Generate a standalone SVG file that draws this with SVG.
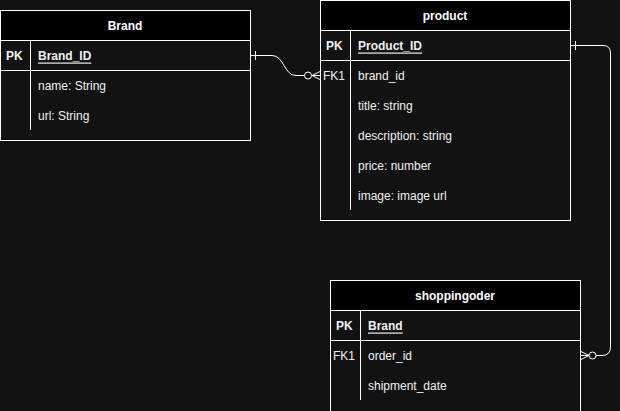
<svg xmlns="http://www.w3.org/2000/svg" width="620" height="411" viewBox="0 0 620 411">
<style>
text{font-family:"Liberation Sans",Arial,sans-serif;font-size:12px;fill:#f0f0f0;dominant-baseline:central}
.h{font-weight:bold;text-anchor:middle;fill:#fff}
.b{font-weight:bold}
.u{text-decoration:underline}
.box{fill:#121212;stroke:#fff;stroke-width:1}
.hd{fill:#000;stroke:#fff;stroke-width:1}
.ln{stroke:#fff;stroke-width:1;fill:none}
</style>
<rect width="620" height="411" fill="#121212"/>
<g id="brand">
<rect class="box" x="0.5" y="10.5" width="250" height="130"/>
<rect class="hd" x="0.5" y="10.5" width="250" height="30"/>
<line class="ln" x1="0.5" y1="70.5" x2="250.5" y2="70.5"/>
<line class="ln" x1="30.5" y1="40.5" x2="30.5" y2="130"/>
<text class="h" x="125" y="25.5">Brand</text>
<text class="b" x="6" y="55.5">PK</text>
<text class="b u" x="38" y="55.5">Brand_ID</text>
<text x="38" y="85.5">name: String</text>
<text x="38" y="115.5">url: String</text>
</g>
<g id="product">
<rect class="box" x="320.5" y="0.5" width="250" height="220"/>
<rect class="hd" x="320.5" y="0.5" width="250" height="30"/>
<line class="ln" x1="320.5" y1="60.5" x2="570.5" y2="60.5"/>
<line class="ln" x1="350.5" y1="30.5" x2="350.5" y2="210"/>
<text class="h" x="445" y="15.5">product</text>
<text class="b" x="326" y="45.5">PK</text>
<text class="b u" x="358" y="45.5">Product_ID</text>
<text x="323" y="75.5">FK1</text>
<text x="358" y="75.5">brand_id</text>
<text x="358" y="105.5">title: string</text>
<text x="358" y="135.5">description: string</text>
<text x="358" y="165.5">price: number</text>
<text x="358" y="195.5">image: image url</text>
</g>
<g id="shoppingoder">
<rect class="box" x="330.5" y="280.5" width="250" height="140"/>
<rect class="hd" x="330.5" y="280.5" width="250" height="30"/>
<line class="ln" x1="330.5" y1="340.5" x2="580.5" y2="340.5"/>
<line class="ln" x1="360.5" y1="310.5" x2="360.5" y2="400"/>
<text class="h" x="455" y="295.5">shoppingoder</text>
<text class="b" x="336" y="325.5">PK</text>
<text class="b u" x="368" y="325.5">Brand</text>
<text x="333" y="355.5">FK1</text>
<text x="368" y="355.5">order_id</text>
<text x="368" y="385.5">shipment_date</text>
</g>
<g id="connectors">
<path class="ln" d="M250.5 55.5 H272 C284 55.5 284 75.5 296 75.5 H304.5"/>
<line class="ln" x1="255.5" y1="51" x2="255.5" y2="60"/>
<circle class="ln" cx="308" cy="75.5" r="3.5"/>
<path class="ln" d="M320 71.5 L312 75.5 L320 79.5 M312 75.5 H320"/>
<path class="ln" d="M570.5 45.5 H603 Q610.5 45.5 610.5 53 V347 Q610.5 355.5 602 355.5 H596"/>
<line class="ln" x1="575.5" y1="41" x2="575.5" y2="50"/>
<circle class="ln" cx="592.5" cy="355.5" r="3.5"/>
<path class="ln" d="M581 351.5 L589 355.5 L581 359.5 M581 355.5 H589"/>
</g>
</svg>
